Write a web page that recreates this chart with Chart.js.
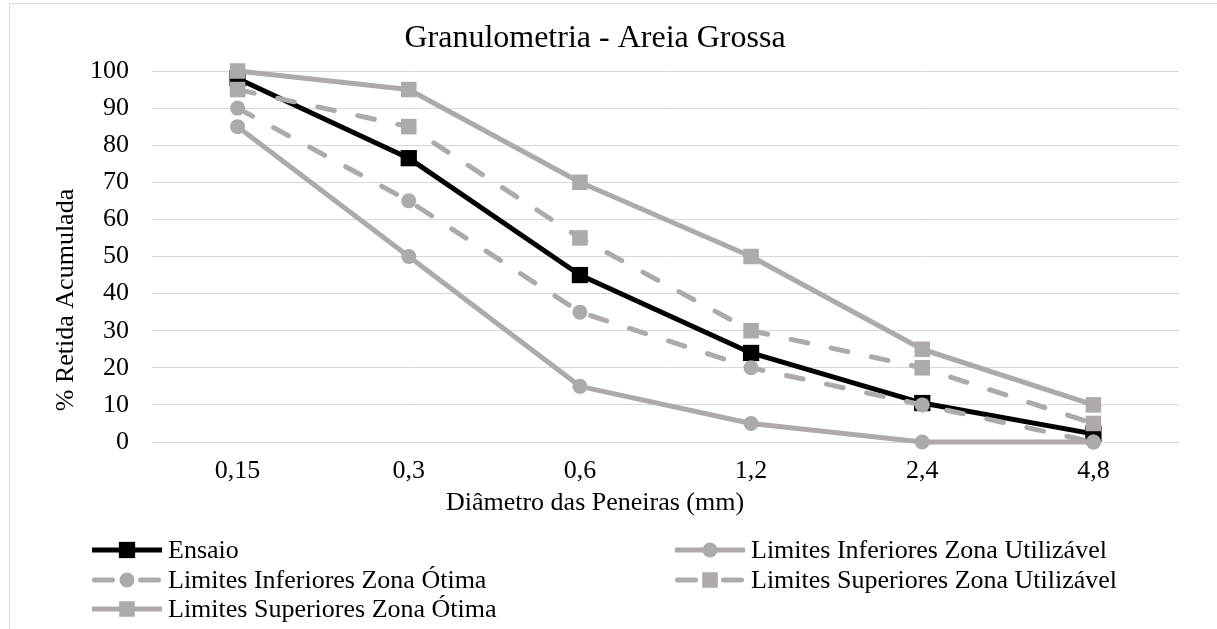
<!DOCTYPE html>
<html>
<head>
<meta charset="utf-8">
<script src="https://cdn.jsdelivr.net/npm/chart.js@4.4.1/dist/chart.umd.min.js"></script>
<style>
  html, body { margin: 0; padding: 0; background: #fff; overflow: hidden; }
  #wrap { position: relative; width: 1217px; height: 629px; }
  canvas { display: block; }
</style>
</head>
<body>
<div id="wrap"><canvas id="c" width="1217" height="629"></canvas></div>
<script>
// ---- data ----
const categories = ['0,15', '0,3', '0,6', '1,2', '2,4', '4,8'];
const ensaio      = [98, 76.5, 45, 24, 10.5, 2.2];
const limInfUtil  = [85, 50, 15, 5, 0, 0];
const limInfOtima = [90, 65, 35, 20, 10, 0];
const limSupUtil  = [95, 85, 55, 30, 20, 5];
const limSupOtima = [100, 95, 70, 50, 25, 10];
const yTickValues = [0, 10, 20, 30, 40, 50, 60, 70, 80, 90, 100];
const seriesNames = [
  'Ensaio',
  'Limites Inferiores Zona Utilizável',
  'Limites Inferiores Zona Ótima',
  'Limites Superiores Zona Utilizável',
  'Limites Superiores Zona Ótima'
];
const titleText = 'Granulometria - Areia Grossa';
const xTitleText = 'Diâmetro das Peneiras (mm)';
const yTitleText = '% Retida Acumulada';

// ---- styles ----
const FONT = "'Liberation Serif', 'Times New Roman', serif";
const GRAY = '#AEAAAA';
const DASH = [17, 24];

function ds(label, data, color, dashed, style, radius, order) {
  return {
    label, data,
    borderColor: color, backgroundColor: color,
    borderWidth: 5,
    borderDash: dashed ? DASH : [],
    borderCapStyle: dashed ? 'round' : 'butt',
    borderJoinStyle: 'round',
    pointStyle: style, pointRadius: radius, pointHoverRadius: radius,
    pointBackgroundColor: color, pointBorderWidth: 0,
    tension: 0, clip: false, order
  };
}

const datasets = [
  ds(seriesNames[0], ensaio,      '#000000', false, 'rect',   11.5, 1),
  ds(seriesNames[1], limInfUtil,  GRAY,      false, 'circle', 7.5, 0),
  ds(seriesNames[2], limInfOtima, GRAY,      true,  'circle', 7.5, 0),
  ds(seriesNames[3], limSupUtil,  GRAY,      true,  'rect',   11, 0),
  ds(seriesNames[4], limSupOtima, GRAY,      false, 'rect',   11, 0)
];

const decor = {
  id: 'decor',
  beforeDraw(chart) {
    const ctx = chart.ctx;
    ctx.save();
    ctx.fillStyle = '#fff';
    ctx.fillRect(0, 0, chart.width, chart.height);
    ctx.strokeStyle = '#D9D9D9';
    ctx.lineWidth = 1;
    ctx.strokeRect(9.5, 3.5, 1400, 800);
    ctx.restore();
  },
  afterDraw(chart) {
    const ctx = chart.ctx;
    ctx.save();
    ctx.fillStyle = '#000';
    // title
    ctx.font = '32px ' + FONT;
    ctx.textAlign = 'center';
    ctx.textBaseline = 'alphabetic';
    ctx.fillText(titleText, 595, 47);
    // x title
    ctx.font = '26px ' + FONT;
    ctx.fillText(xTitleText, 595, 510);
    // y title
    ctx.save();
    ctx.translate(73, 300);
    ctx.rotate(-Math.PI / 2);
    ctx.fillText(yTitleText, 0, 0);
    ctx.restore();
    // legend
    const cols = [92, 675];
    const rows = [550, 580, 609];
    const sampleLen = 70;
    chart.data.datasets.forEach((d, i) => {
      const x0 = cols[i % 2];
      const y = rows[Math.floor(i / 2)];
      const dashed = d.borderDash && d.borderDash.length > 0;
      ctx.save();
      ctx.strokeStyle = d.borderColor;
      ctx.lineWidth = d.borderWidth;
      ctx.setLineDash(dashed ? [18, 28] : []);
      ctx.lineCap = dashed ? 'round' : 'butt';
      ctx.beginPath();
      ctx.moveTo(x0 + (dashed ? 2.5 : 0), y);
      ctx.lineTo(x0 + sampleLen - (dashed ? 2.5 : 0), y);
      ctx.stroke();
      ctx.setLineDash([]);
      ctx.fillStyle = d.pointBackgroundColor;
      Chart.helpers.drawPoint(ctx, { pointStyle: d.pointStyle, radius: d.pointRadius, rotation: 0, borderWidth: 0 }, x0 + sampleLen / 2, y);
      ctx.restore();
      ctx.font = '26px ' + FONT;
      ctx.textAlign = 'left';
      ctx.textBaseline = 'alphabetic';
      ctx.fillStyle = '#000';
      ctx.fillText(d.label, x0 + sampleLen + 6, y + 8);
    });
    ctx.restore();
  }
};

new Chart(document.getElementById('c'), {
  type: 'line',
  data: { labels: categories, datasets },
  options: {
    responsive: false,
    devicePixelRatio: 1,
    animation: false,
    events: [],
    layout: { padding: { left: 52, top: 71, right: 38, bottom: 137 } },
    plugins: { legend: { display: false }, title: { display: false }, tooltip: { enabled: false } },
    scales: {
      x: {
        type: 'category',
        offset: true,
        grid: { display: false, drawTicks: false },
        border: { display: false },
        ticks: { font: { family: FONT, size: 26 }, color: '#000', padding: 14, maxRotation: 0, autoSkip: false },
        afterFit(s) { s.height = 50; }
      },
      y: {
        min: 0, max: 100,
        afterBuildTicks(s) { s.ticks = yTickValues.map(v => ({ value: v })); },
        grid: { color: '#D9D9D9', lineWidth: 1, drawTicks: false },
        border: { display: false },
        ticks: { font: { family: FONT, size: 26 }, color: '#000', padding: 23 },
        afterFit(s) { s.width = 100; }
      }
    }
  },
  plugins: [decor]
});
</script>
</body>
</html>
